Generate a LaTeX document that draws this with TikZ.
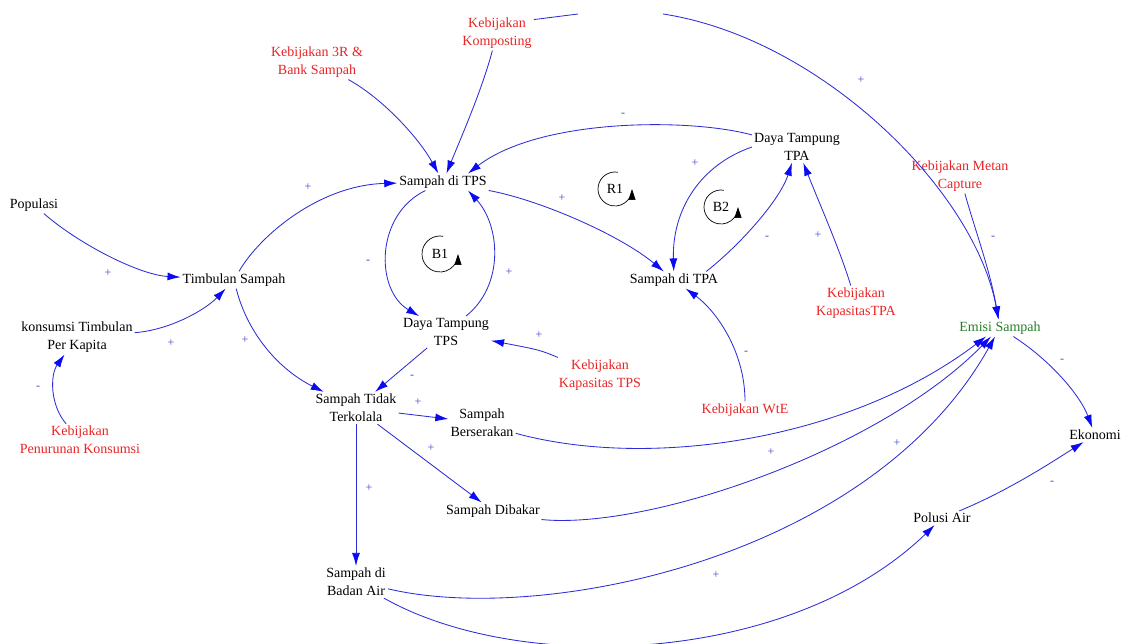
\documentclass[tikz,border=0pt]{standalone}
\usepackage{fontspec}
\setmainfont{Liberation Serif}
\usetikzlibrary{arrows.meta}
\definecolor{pred}{RGB}{232,36,36}
\definecolor{pgreen}{RGB}{40,125,40}
\definecolor{lblue}{RGB}{45,45,215}
\definecolor{ablue}{RGB}{10,10,245}
\definecolor{sblue}{RGB}{70,70,210}
\begin{document}
\begin{tikzpicture}[x=1pt,y=-1pt,
  varbox/.style={font=\fontsize{14}{18}\selectfont, align=center, inner sep=2pt},
  policy/.style={varbox, text=pred},
  link/.style={draw=lblue, line width=0.85pt, -{Latex[length=13pt,width=8pt,color=ablue]}},
  plainlink/.style={draw=lblue, line width=0.85pt},
  sgn/.style={font=\fontsize{12}{12}\selectfont, text=sblue, inner sep=0pt},
  loopc/.style={draw=black, line width=0.7pt, -{Triangle[length=11pt,width=7pt]}},
]
\useasboundingbox (0,0) rectangle (1129,644);

% variables
\node[policy] (k3r)   at (317,62)  {Kebijakan 3R \&\\Bank Sampah};
\node[policy] (komp)  at (497,33)  {Kebijakan\\Komposting};
\node[varbox] (dtpa)  at (797,147) {Daya Tampung\\TPA};
\node[policy] (metan) at (960,176) {Kebijakan Metan\\Capture};
\node[varbox] (pop)   at (34,205)  {Populasi};
\node[varbox] (stps)  at (443,182) {Sampah di TPS};
\node[varbox] (timb)  at (234,280) {Timbulan Sampah};
\node[varbox] (kons)  at (77,337)  {konsumsi Timbulan\\Per Kapita};
\node[policy] (kpen)  at (80,440)  {Kebijakan\\Penurunan Konsumsi};
\node[varbox] (dtps)  at (446,332) {Daya Tampung\\TPS};
\node[varbox] (stpa)  at (674,280) {Sampah di TPA};
\node[policy] (kktps) at (600,375) {Kebijakan\\Kapasitas TPS};
\node[policy] (kwte)  at (745,410) {Kebijakan WtE};
\node[policy] (kktpa) at (856,303) {Kebijakan\\KapasitasTPA};
\node[varbox, text=pgreen] (emisi) at (1000,328) {Emisi Sampah};
\node[varbox] (eko)   at (1095,435) {Ekonomi};
\node[varbox] (stt)   at (356,408) {Sampah Tidak\\Terkolala};
\node[varbox] (sber)  at (482,423) {Sampah\\Berserakan};
\node[varbox] (sdib)  at (493,511) {Sampah Dibakar};
\node[varbox] (sba)   at (356,582) {Sampah di\\Badan Air};
\node[varbox] (pol)   at (942,518) {Polusi Air};

% loop markers
\node[varbox] (r1) at (615,189) {R1};
\node[varbox] (b2) at (721,207) {B2};
\node[varbox] (b1) at (440,254) {B1};
\begin{scope}[shift={(615,189)},yscale=-1]
  \draw[loopc] (80:17) arc[start angle=80,end angle=360,radius=17];
\end{scope}
\begin{scope}[shift={(721,207)},yscale=-1]
  \draw[loopc] (80:17) arc[start angle=80,end angle=360,radius=17];
\end{scope}
\begin{scope}[shift={(440,254)},yscale=-1]
  \draw[loopc] (80:18) arc[start angle=80,end angle=360,radius=18];
\end{scope}

% connectors
\coordinate (gapL) at (578,14);
\coordinate (gapR) at (663,14);
\draw[link] (k3r) .. controls (385,100) and (420,140) .. (stps);
\draw[link] (komp) .. controls (482,90) and (460,140) .. (stps);
\draw[plainlink] (komp.20) -- (gapL);
\draw[link] (gapR) .. controls (820,38) and (975,190) .. (emisi);
\draw[link] (dtpa.165) .. controls (690,118) and (540,118) .. ([xshift=25pt]stps.north);
\draw[link] (dtpa.west) .. controls (700,165) and (672,210) .. (stpa);
\draw[link] ([xshift=-14pt]stpa.north east) .. controls (740,245) and (780,200) .. (dtpa);
\draw[link] (kktpa) .. controls (840,250) and (820,205) .. (dtpa);
\draw[link] (stps) .. controls (540,200) and (620,235) .. (stpa);
\draw[link] (kwte) .. controls (745,350) and (715,310) .. (stpa);
\draw[link] (stps) .. controls (375,215) and (375,290) .. (dtps);
\draw[link] (dtps) .. controls (505,285) and (500,225) .. ([xshift=25pt]stps.south);
\draw[link] (pop) .. controls (80,245) and (140,275) .. (timb);
\draw[link] (kons) .. controls (170,330) and (205,310) .. (timb);
\draw[link] (kpen) .. controls (50,405) and (50,375) .. (kons);
\draw[link] (timb) .. controls (260,235) and (320,185) .. (stps);
\draw[link] (timb) .. controls (248,335) and (280,370) .. (stt);
\draw[link] (dtps) -- (stt);
\draw[link] (kktps) .. controls (540,350) .. (dtps);
\draw[link] (stt) -- (sber);
\draw[link] (stt) -- (sdib);
\draw[link] (stt) -- (sba);
\draw[link] (sber.-17) .. controls (650,470) and (850,440) .. ([xshift=-14pt]emisi.south);
\draw[link] (sdib.-10) .. controls (650,530) and (880,450) .. ([xshift=-9pt]emisi.south);
\draw[link] (sba.-12) .. controls (540,625) and (870,560) .. ([xshift=-5pt]emisi.south);
\draw[link] (sba.-30) .. controls (520,675) and (790,665) .. (pol);
\draw[link] (emisi) .. controls (1050,360) and (1080,395) .. (eko);
\draw[link] (pol) .. controls (1010,490) and (1055,460) .. (eko);
\draw[link] (metan) .. controls (975,230) and (990,270) .. (emisi);

% polarity signs
\node[sgn] (s1)  at (308,187) {+};
\node[sgn] (s2)  at (108,273) {+};
\node[sgn] (s3)  at (171,343) {+};
\node[sgn] (s4)  at (245,340) {+};
\node[sgn] (s5)  at (38,388)  {-};
\node[sgn] (s6)  at (368,262) {-};
\node[sgn] (s7)  at (509,272) {+};
\node[sgn] (s8)  at (562,198) {+};
\node[sgn] (s9)  at (623,115) {-};
\node[sgn] (s10) at (695,163) {+};
\node[sgn] (s11) at (767,238) {-};
\node[sgn] (s12) at (818,235) {+};
\node[sgn] (s13) at (861,80)  {+};
\node[sgn] (s14) at (993,238) {-};
\node[sgn] (s15) at (746,353) {-};
\node[sgn] (s16) at (539,335) {+};
\node[sgn] (s17) at (412,377) {-};
\node[sgn] (s18) at (418,402) {+};
\node[sgn] (s19) at (431,448) {+};
\node[sgn] (s20) at (369,488) {+};
\node[sgn] (s21) at (771,452) {+};
\node[sgn] (s22) at (897,443) {+};
\node[sgn] (s23) at (716,575) {+};
\node[sgn] (s24) at (1062,361) {-};
\node[sgn] (s25) at (1052,483) {-};
\end{tikzpicture}
\end{document}
